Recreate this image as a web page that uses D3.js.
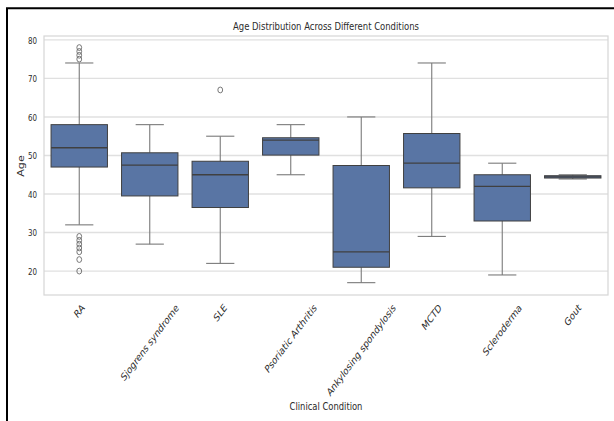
<!DOCTYPE html>
<html lang="en">
<head>
<meta charset="UTF-8">
<title>Age Distribution Across Different Conditions</title>
<script src="https://d3js.org/d3.v7.min.js"></script>
<style>
  body { margin: 0; background: #fff; }
  svg { display: block; }
  text { font-family: "DejaVu Sans", sans-serif; fill: #2b2b2b; }
</style>
</head>
<body>
<div id="chart"></div>
<script>
// box statistics
const categories = ["RA", "Sjogrens syndrome", "SLE", "Psoriatic Arthritis",
  "Ankylosing spondylosis", "MCTD", "Scleroderma", "Gout"];
const whiskerLow  = [32, 27, 22, 45, 17, 29, 19, 43.9];
const q1          = [47, 39.5, 36.5, 50.1, 21, 41.6, 33, 44.15];
const medians     = [52, 47.5, 45, 54, 25, 48, 42, 44.45];
const q3          = [58, 50.7, 48.5, 54.6, 47.4, 55.7, 45, 44.75];
const whiskerHigh = [74, 58, 55, 58, 60, 74, 48, 45];
const outliers    = [[20, 23, 25, 26, 27, 28, 29, 75, 76, 77, 78], [], [67], [], [], [], [], []];
const yTicks = [20, 30, 40, 50, 60, 70, 80];

const width = 614, height = 421;
const plot = { left: 44, right: 608, top: 36, bottom: 295 };
const squish = 0.75; // text in the reference is narrowed horizontally

const svg = d3.select("#chart").append("svg")
  .attr("width", width).attr("height", height);

// black frame on the left and top
svg.append("path")
  .attr("d", `M7,${height} V8.3 H${width}`)
  .attr("fill", "none").attr("stroke", "#000").attr("stroke-width", 2);

const x = d3.scaleBand().domain(categories)
  .range([plot.left, plot.right]).paddingInner(0.2).paddingOuter(0.1);
const y = d3.scaleLinear().domain([13.8, 81]).range([plot.bottom, plot.top]);

// grid
svg.append("g").selectAll("line").data(yTicks).join("line")
  .attr("x1", plot.left).attr("x2", plot.right)
  .attr("y1", d => y(d)).attr("y2", d => y(d))
  .attr("stroke", "#e0e0e0").attr("stroke-width", 1.4);

// frame of the axes
svg.append("rect")
  .attr("x", plot.left).attr("y", plot.top)
  .attr("width", plot.right - plot.left).attr("height", plot.bottom - plot.top)
  .attr("fill", "none").attr("stroke", "#d6d6d6").attr("stroke-width", 1.2);

// y axis labels
const yAxis = svg.append("g")
  .attr("transform", `translate(${plot.left},0)`)
  .call(d3.axisLeft(y).tickValues(yTicks).tickSize(0));
yAxis.select(".domain").remove();
yAxis.selectAll("text")
  .attr("x", 0).attr("dy", "0.34em")
  .attr("transform", `translate(-7,0) scale(${squish},1)`)
  .style("font-size", "9.5px").style("font-family", "DejaVu Sans").attr("fill", "#2b2b2b");

// boxes
const boxColor = "#5975a4", lineColor = "#404040", whiskColor = "#7a7a7a";
const bw = x.bandwidth();
const g = svg.append("g");
categories.forEach((c, i) => {
  const cx = x(c) + bw / 2;
  const box = g.append("g");
  // whiskers
  box.append("line").attr("x1", cx).attr("x2", cx)
    .attr("y1", y(q3[i])).attr("y2", y(whiskerHigh[i]))
    .attr("stroke", whiskColor).attr("stroke-width", 1.1);
  box.append("line").attr("x1", cx).attr("x2", cx)
    .attr("y1", y(q1[i])).attr("y2", y(whiskerLow[i]))
    .attr("stroke", whiskColor).attr("stroke-width", 1.1);
  [whiskerHigh[i], whiskerLow[i]].forEach(v => {
    box.append("line").attr("x1", cx - bw / 4).attr("x2", cx + bw / 4)
      .attr("y1", y(v)).attr("y2", y(v))
      .attr("stroke", whiskColor).attr("stroke-width", 1.1);
  });
  box.append("rect")
    .attr("x", x(c)).attr("width", bw)
    .attr("y", y(q3[i])).attr("height", Math.max(0.5, y(q1[i]) - y(q3[i])))
    .attr("fill", boxColor).attr("stroke", lineColor).attr("stroke-width", 1);
  box.append("line").attr("x1", x(c)).attr("x2", x(c) + bw)
    .attr("y1", y(medians[i])).attr("y2", y(medians[i]))
    .attr("stroke", lineColor).attr("stroke-width", 1.3);
  box.selectAll("ellipse").data(outliers[i]).join("ellipse")
    .attr("cx", cx).attr("cy", d => y(d))
    .attr("rx", 2.4).attr("ry", 2.9)
    .attr("fill", "none").attr("stroke", "#6a6a6a").attr("stroke-width", 0.9);
});

// x tick labels, rotated and centred under each box
const labelTop = 302, fs = 10.8;
const xl = svg.append("g").selectAll("text").data(categories).join("text")
  .attr("text-anchor", "middle").attr("dy", "0.35em")
  .style("font-size", fs + "px")
  .text(d => d);
xl.each(function(d) {
  const w = this.getComputedTextLength();
  const h = (w + fs) * Math.SQRT1_2;
  const cx = x(d) + bw / 2;
  d3.select(this).attr("transform",
    `translate(${cx},${labelTop + h / 2}) scale(${squish},1) rotate(-45)`);
});

// titles
svg.append("text")
  .attr("text-anchor", "middle")
  .attr("transform", `translate(${(plot.left + plot.right) / 2},30) scale(${squish},1)`)
  .style("font-size", "11.3px")
  .text("Age Distribution Across Different Conditions");

svg.append("text")
  .attr("text-anchor", "middle")
  .attr("transform", `translate(${(plot.left + plot.right) / 2},410) scale(${squish},1)`)
  .style("font-size", "11.2px")
  .text("Clinical Condition");

svg.append("text")
  .attr("text-anchor", "middle")
  .attr("transform", `translate(24,166) scale(${squish},1) rotate(-90)`)
  .style("font-size", "11.2px")
  .text("Age");
</script>
</body>
</html>
